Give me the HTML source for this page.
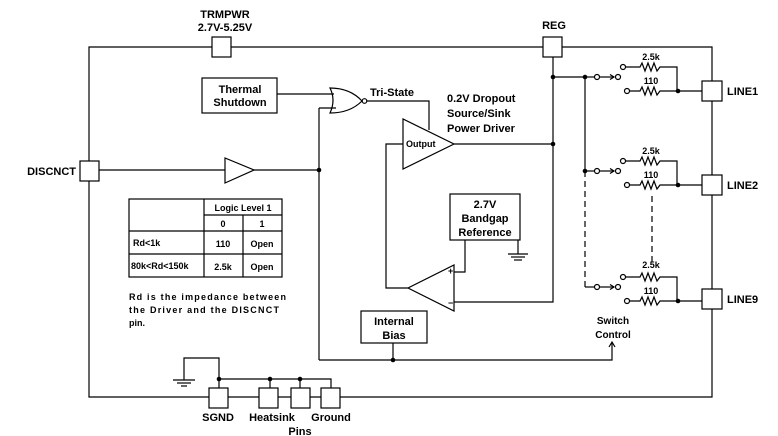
<!DOCTYPE html>
<html><head><style>
body{margin:0;background:#fff}
svg{display:block}
text{font-family:"Liberation Sans",sans-serif;font-weight:bold;font-size:11px;fill:#000}
.s{font-size:9px}
</style></head><body>
<svg width="778" height="436" viewBox="0 0 778 436" xmlns="http://www.w3.org/2000/svg">
<g fill="none" stroke="#000" stroke-width="1.2">
<polyline points="89,161 89,47 712,47 712,397 89,397 89,181"/>
<rect x="212" y="37" width="19" height="20" fill="#fff"/>
<rect x="543" y="37" width="19" height="20" fill="#fff"/>
<rect x="80" y="161" width="19" height="20" fill="#fff"/>
<rect x="702" y="81" width="20" height="20" fill="#fff"/>
<rect x="702" y="175" width="20" height="20" fill="#fff"/>
<rect x="702" y="289" width="20" height="20" fill="#fff"/>
<rect x="209" y="388" width="19" height="20" fill="#fff"/>
<rect x="259" y="388" width="19" height="20" fill="#fff"/>
<rect x="291" y="388" width="19" height="20" fill="#fff"/>
<rect x="321" y="388" width="19" height="20" fill="#fff"/>
<line x1="99" y1="170" x2="225" y2="170"/>
<polygon points="225,158 225,183 254,170"/>
<line x1="254" y1="170" x2="319" y2="170"/>
<line x1="319" y1="108" x2="319" y2="360"/>
<line x1="319" y1="108" x2="336" y2="108"/>
<rect x="202" y="78" width="75" height="35"/>
<line x1="277" y1="94" x2="334" y2="94"/>
<path d="M330,88 Q336,100 330,113 Q350,113 362,101 Q350,88 330,88 Z"/>
<circle cx="364.5" cy="101" r="2.3"/>
<polyline points="367,101 429,101 429,130"/>
<polygon points="403,119 403,169 454,144"/>
<line x1="454" y1="144" x2="553" y2="144"/>
<polyline points="403,144 386,144 386,288 408,288"/>
<polygon points="454,265 454,311 408,288"/>
<polyline points="454,272 465,272 465,240"/>
<polyline points="454,302 553,302 553,57"/>
<rect x="450" y="194" width="70" height="46"/>
<line x1="518" y1="240" x2="518" y2="254"/>
<line x1="508" y1="254" x2="528" y2="254"/>
<line x1="511" y1="257" x2="525" y2="257"/>
<line x1="514" y1="260" x2="522" y2="260"/>
<rect x="361" y="311" width="66" height="32"/>
<line x1="393" y1="343" x2="393" y2="360"/>
<polyline points="319,360 612,360 612,343"/>
<polyline points="609,347 612,342 615,347"/>
<line x1="553" y1="77" x2="585" y2="77"/>
<line x1="585" y1="77" x2="585" y2="171"/>
<line x1="585" y1="171" x2="585" y2="287" stroke-dasharray="6,4"/>
<line x1="652" y1="196" x2="652" y2="263" stroke-dasharray="6,4"/>
<g id="r1">
<line x1="585" y1="77" x2="594" y2="77"/>
<circle cx="597" cy="77" r="2.5"/>
<line x1="600" y1="77" x2="614" y2="77"/>
<polyline points="610,74.5 614,77 610,79.5"/>
<circle cx="618" cy="77" r="2.5"/>
<circle cx="623" cy="67" r="2.5"/>
<polyline points="626,67 640,67 642,63 645,71 648,63 651,71 654,63 657,71 660,67 677,67 677,91"/>
<circle cx="627" cy="91" r="2.5"/>
<polyline points="630,91 640,91 642,87 645,95 648,87 651,95 654,87 657,95 660,91 702,91"/>
</g>
<use href="#r1" transform="translate(0,94)"/>
<use href="#r1" transform="translate(0,210)"/>
<polyline points="219,388 219,379 331,379 331,388"/>
<line x1="270" y1="379" x2="270" y2="388"/>
<line x1="300" y1="379" x2="300" y2="388"/>
<polyline points="219,379 219,358 184,358 184,380"/>
<line x1="173" y1="380" x2="195" y2="380"/>
<line x1="177" y1="383" x2="191" y2="383"/>
<line x1="181" y1="386" x2="187" y2="386"/>
<rect x="129" y="199" width="153" height="78"/>
<line x1="204" y1="199" x2="204" y2="277"/>
<line x1="243" y1="215" x2="243" y2="277"/>
<line x1="204" y1="215" x2="282" y2="215"/>
<line x1="129" y1="231" x2="282" y2="231"/>
<line x1="129" y1="254" x2="282" y2="254"/>
</g>
<g fill="#000">
<circle cx="319" cy="170" r="2.3"/><circle cx="553" cy="77" r="2.3"/><circle cx="553" cy="144" r="2.3"/>
<circle cx="585" cy="77" r="2.3"/><circle cx="585" cy="171" r="2.3"/>
<circle cx="678" cy="91" r="2.3"/><circle cx="678" cy="185" r="2.3"/><circle cx="678" cy="301" r="2.3"/>
<circle cx="393" cy="360" r="2.3"/>
<circle cx="219" cy="379" r="2.3"/><circle cx="270" cy="379" r="2.3"/><circle cx="300" cy="379" r="2.3"/>
</g>
<text x="225" y="18" text-anchor="middle">TRMPWR</text>
<text x="225" y="31" text-anchor="middle">2.7V-5.25V</text>
<text x="554" y="29" text-anchor="middle">REG</text>
<text x="76" y="175" text-anchor="end">DISCNCT</text>
<text x="240" y="93" text-anchor="middle">Thermal</text>
<text x="240" y="106" text-anchor="middle">Shutdown</text>
<text x="370" y="96">Tri-State</text>
<text x="447" y="102">0.2V  Dropout</text>
<text x="447" y="117">Source/Sink</text>
<text x="447" y="132">Power  Driver</text>
<text x="406" y="147" class="s">Output</text>
<text x="485" y="208" text-anchor="middle">2.7V</text>
<text x="485" y="222" text-anchor="middle">Bandgap</text>
<text x="485" y="236" text-anchor="middle">Reference</text>
<text x="448" y="274" class="s">+</text>
<text x="448" y="306" class="s">−</text>
<text x="394" y="325" text-anchor="middle">Internal</text>
<text x="394" y="339" text-anchor="middle">Bias</text>
<text x="613" y="324" text-anchor="middle" style="font-size:10px">Switch</text>
<text x="613" y="338" text-anchor="middle" style="font-size:10px">Control</text>
<text x="651" y="60" text-anchor="middle" class="s">2.5k</text>
<text x="651" y="84" text-anchor="middle" class="s">110</text>
<text x="651" y="154" text-anchor="middle" class="s">2.5k</text>
<text x="651" y="178" text-anchor="middle" class="s">110</text>
<text x="651" y="268" text-anchor="middle" class="s">2.5k</text>
<text x="651" y="294" text-anchor="middle" class="s">110</text>
<text x="727" y="95">LINE1</text>
<text x="727" y="189">LINE2</text>
<text x="727" y="303">LINE9</text>
<text x="243" y="211" text-anchor="middle" class="s">Logic  Level  1</text>
<text x="223" y="227" text-anchor="middle" class="s">0</text>
<text x="262" y="227" text-anchor="middle" class="s">1</text>
<text x="133" y="246" class="s">Rd&lt;1k</text>
<text x="223" y="247" text-anchor="middle" class="s">110</text>
<text x="262" y="247" text-anchor="middle" class="s">Open</text>
<text x="131" y="269" class="s">80k&lt;Rd&lt;150k</text>
<text x="223" y="270" text-anchor="middle" class="s">2.5k</text>
<text x="262" y="270" text-anchor="middle" class="s">Open</text>
<text x="129" y="300" class="s" textLength="157">Rd is the impedance between</text>
<text x="129" y="313" class="s" textLength="150">the Driver and the DISCNCT</text>
<text x="129" y="326" class="s">pin.</text>
<text x="218" y="421" text-anchor="middle">SGND</text>
<text x="272" y="421" text-anchor="middle">Heatsink</text>
<text x="331" y="421" text-anchor="middle">Ground</text>
<text x="300" y="435" text-anchor="middle">Pins</text>
</svg>
</body></html>
